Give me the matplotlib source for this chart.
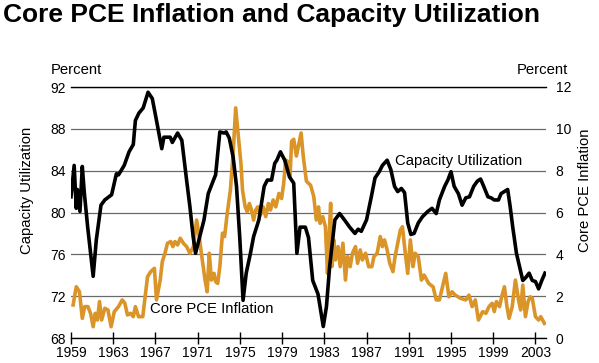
import matplotlib
matplotlib.use('Agg')
import matplotlib.pyplot as plt

plt.rcParams['font.family'] = ['Liberation Sans', 'DejaVu Sans']

# capacity utilization, percent (left axis)
cap_years = [1959.0, 1959.3, 1959.5, 1959.6, 1959.85, 1960.07, 1960.26, 1960.58, 1961.1, 1961.4,
             1961.84, 1962.2, 1962.85, 1963.3, 1963.5, 1964.04, 1964.5, 1964.9, 1965.1, 1965.43,
             1965.84, 1966.3, 1966.7, 1967.1, 1967.6, 1967.8, 1968.4, 1968.6, 1969.1, 1969.5,
             1969.95, 1970.26, 1970.57, 1970.8, 1971.2, 1971.6, 1972.0, 1972.5, 1972.7, 1973.1,
             1973.5, 1973.7, 1974.0, 1974.36, 1974.68, 1975.0, 1975.3, 1975.6, 1976.0, 1976.3,
             1976.8, 1977.3, 1977.6, 1978.0, 1978.3, 1978.5, 1978.84, 1979.25, 1979.7, 1980.1,
             1980.4, 1980.7, 1981.2, 1981.5, 1981.9, 1982.4, 1982.9, 1983.2, 1983.5, 1984.0,
             1984.45, 1984.9, 1985.4, 1985.9, 1986.2, 1986.5, 1987.0, 1987.45, 1987.8, 1988.2,
             1988.5, 1988.95, 1989.3, 1989.65, 1989.95, 1990.3, 1990.6, 1990.9, 1991.2, 1991.5,
             1991.9, 1992.3, 1992.8, 1993.2, 1993.6, 1993.9, 1994.4, 1994.7, 1995.0, 1995.3,
             1995.7, 1996.05, 1996.4, 1996.75, 1997.15, 1997.5, 1997.8, 1998.1, 1998.5, 1998.8,
             1999.1, 1999.5, 1999.74, 2000.05, 2000.37, 2000.6, 2000.85, 2001.2, 2001.5, 2001.8,
             2002.1, 2002.4, 2002.7, 2003.0, 2003.3, 2003.6, 2003.9]
cap_values = [81.5, 84.5, 80.4, 82.2, 80.1, 84.4, 81.9, 78.6, 73.9, 77.4,
              80.7, 81.2, 81.7, 83.7, 83.6, 84.5, 85.8, 86.5, 88.8, 89.5,
              90.0, 91.5, 90.9, 88.8, 86.1, 87.2, 87.2, 86.7, 87.6, 86.9,
              83.1, 80.6, 77.7, 76.1, 77.7, 79.3, 81.8, 83.1, 83.6, 87.7,
              87.6, 87.7, 87.1, 85.3, 82.5, 77.4, 71.6, 74.2, 76.1, 77.7,
              79.3, 82.5, 83.1, 83.1, 84.7, 85.0, 85.8, 85.0, 83.4, 82.8,
              76.1, 78.6, 78.6, 77.6, 73.5, 72.2, 69.1, 71.0, 74.8, 79.3,
              79.9, 79.3, 78.6, 78.0, 78.4, 78.2, 79.3, 81.5, 83.3, 83.9,
              84.5, 85.0, 84.1, 82.5, 82.0, 82.3, 81.9, 79.0, 77.9, 78.0,
              79.0, 79.6, 80.1, 80.4, 79.9, 81.2, 82.5, 83.1, 83.9, 82.5,
              81.8, 80.7, 81.4, 81.5, 82.5, 83.0, 83.2, 82.5, 81.5, 81.4,
              81.2, 81.2, 81.8, 82.0, 82.2, 80.6, 78.6, 76.1, 74.8, 73.5,
              73.8, 74.2, 73.5, 73.4, 72.7, 73.5, 74.2]

# core PCE inflation, percent (right axis)
pce_years = [1959.2, 1959.5, 1959.8, 1960.07, 1960.3, 1960.6, 1960.85, 1961.1, 1961.3, 1961.5,
             1961.7, 1961.9, 1962.2, 1962.5, 1962.8, 1963.1, 1963.5, 1963.85, 1964.1, 1964.35,
             1964.65, 1964.9, 1965.1, 1965.4, 1965.8, 1966.25, 1966.55, 1966.9, 1967.1, 1967.45,
             1967.65, 1967.9, 1968.14, 1968.45, 1968.65, 1968.85, 1969.1, 1969.35, 1969.65, 1969.95,
             1970.26, 1970.6, 1970.9, 1971.15, 1971.35, 1971.7, 1971.9, 1972.1, 1972.3, 1972.55,
             1972.7, 1972.9, 1973.1, 1973.35, 1973.55, 1973.8, 1974.1, 1974.36, 1974.6, 1974.8,
             1975.1, 1975.25, 1975.5, 1975.7, 1975.9, 1976.1, 1976.3, 1976.5, 1976.7, 1976.95,
             1977.2, 1977.45, 1977.7, 1977.9, 1978.15, 1978.4, 1978.7, 1978.95, 1979.15, 1979.34,
             1979.55, 1979.75, 1979.9, 1980.1, 1980.35, 1980.55, 1980.8, 1981.0, 1981.3, 1981.7,
             1982.0, 1982.24, 1982.45, 1982.6, 1982.85, 1983.1, 1983.3, 1983.45, 1983.6, 1983.7,
             1983.9, 1984.05, 1984.3, 1984.5, 1984.76, 1985.0, 1985.2, 1985.45, 1985.66, 1985.95,
             1986.15, 1986.4, 1986.6, 1986.9, 1987.2, 1987.5, 1987.7, 1988.0, 1988.3, 1988.5,
             1988.7, 1988.95, 1989.2, 1989.5, 1989.7, 1989.95, 1990.2, 1990.4, 1990.6, 1990.9,
             1991.15, 1991.4, 1991.6, 1991.9, 1992.2, 1992.45, 1992.9, 1993.3, 1993.6, 1993.9,
             1994.2, 1994.5, 1994.8, 1995.1, 1995.4, 1995.9, 1996.4, 1996.7, 1997.0, 1997.3,
             1997.6, 1998.0, 1998.3, 1998.6, 1998.9, 1999.1, 1999.3, 1999.6, 1999.8, 2000.06,
             2000.3, 2000.5, 2000.8, 2001.1, 2001.4, 2001.6, 2001.8, 2002.05, 2002.3, 2002.5,
             2002.7, 2003.0, 2003.3, 2003.5, 2003.85]
pce_values = [1.58, 2.45, 2.21, 0.94, 1.50, 1.50, 1.18, 0.54, 1.18, 0.86,
              1.74, 0.86, 1.42, 1.34, 0.54, 1.26, 1.50, 1.82, 1.66, 1.10,
              1.18, 1.02, 1.50, 1.02, 1.02, 2.93, 3.17, 3.33, 1.82, 2.77,
              3.65, 4.05, 4.53, 4.61, 4.37, 4.61, 4.45, 4.77, 4.53, 4.37,
              4.05, 4.37, 5.64, 4.85, 4.05, 2.77, 2.21, 4.05, 2.77, 3.09,
              2.69, 2.61, 3.41, 5.01, 4.85, 5.96, 7.07, 8.83, 11.0, 9.94,
              8.34, 7.07, 6.27, 6.04, 6.43, 6.12, 5.64, 6.12, 6.27, 5.88,
              6.27, 5.80, 6.43, 6.12, 6.60, 6.27, 6.91, 6.67, 7.39, 8.51,
              8.43, 7.71, 9.4, 9.5, 8.7, 9.2, 9.8, 8.7, 7.5, 7.3,
              6.76, 5.64, 6.27, 5.48, 5.80, 5.32, 3.09, 4.85, 6.44, 3.41,
              4.69, 3.73, 4.37, 3.41, 4.53, 2.77, 3.89, 3.41, 4.05, 4.37,
              3.57, 4.21, 3.73, 4.05, 3.41, 3.41, 3.89, 4.05, 4.85, 4.37,
              4.69, 4.21, 3.57, 3.17, 3.89, 4.53, 5.16, 5.32, 4.37, 3.09,
              4.69, 3.41, 4.05, 3.89, 2.77, 3.01, 2.6, 2.45, 1.82, 1.82,
              2.45, 3.09, 1.97, 2.21, 2.05, 1.90, 1.82, 2.05, 1.5, 1.82,
              0.86, 1.26, 1.18, 1.5, 1.66, 1.26, 1.74, 1.5, 1.97, 2.45,
              1.5, 0.94, 1.5, 2.77, 1.82, 1.34, 2.53, 1.02, 1.74, 1.97,
              1.9, 1.02, 0.86, 1.02, 0.70]

year_ticks = list(range(1959, 2004, 4))
cap_ticks = [68, 72, 76, 80, 84, 88, 92]
pce_ticks = [0, 2, 4, 6, 8, 10, 12]

BLACK = '#000000'
ORANGE = '#DA9428'
W, H = 599, 363

fig = plt.figure(figsize=(W / 100, H / 100), dpi=100)
ax_pce = fig.add_axes([71 / W, 25 / H, 475 / W, 251 / H])
ax_cap = ax_pce.twinx()

ax_pce.plot(pce_years, pce_values, color=ORANGE, lw=2.6, solid_joinstyle='round', zorder=3)
ax_cap.plot(cap_years, cap_values, color=BLACK, lw=2.6, solid_joinstyle='round', zorder=3)

ax_pce.set_xlim(1959, 2004)
ax_pce.set_ylim(0, 12)
ax_cap.set_ylim(68, 92)
ax_pce.set_xticks(year_ticks)
ax_pce.set_yticks(pce_ticks)
ax_cap.set_yticks(cap_ticks)

ax_pce.yaxis.tick_right()
ax_cap.yaxis.tick_left()
ax_pce.tick_params(axis='y', length=0, pad=7, labelsize=10)
ax_cap.tick_params(axis='y', length=0, pad=4, labelsize=10)
ax_pce.tick_params(axis='x', direction='inout', length=8, width=1, pad=2, labelsize=10)

ax_pce.grid(axis='y', color='#6a6a6a', lw=0.9, zorder=1)
ax_pce.grid(axis='x', visible=False)

for ax in (ax_pce, ax_cap):
    for side in ('left', 'right'):
        ax.spines[side].set_visible(False)
ax_cap.spines['bottom'].set_visible(False)
ax_cap.spines['top'].set_visible(False)
ax_pce.spines['bottom'].set_linewidth(1)
ax_pce.spines['top'].set_linewidth(1)

ax_cap.text(1989.65, 84.9, 'Capacity Utilization', fontsize=10.7, va='center', ha='left')
ax_cap.text(1966.5, 70.8, 'Core PCE Inflation', fontsize=10.7, va='center', ha='left')

fig.text(3 / W, 1 - 22 / H, 'Core PCE Inflation and Capacity Utilization',
         fontsize=19, fontweight='bold', va='baseline', ha='left')
fig.text(51 / W, 1 - 74 / H, 'Percent', fontsize=10.7, va='baseline', ha='left')
fig.text(568 / W, 1 - 74 / H, 'Percent', fontsize=10.7, va='baseline', ha='right')
fig.text(27 / W, 1 - 190 / H, 'Capacity Utilization', fontsize=10.7, rotation=90,
         va='center', ha='center')
fig.text(585 / W, 1 - 190 / H, 'Core PCE Inflation', fontsize=10.7, rotation=90,
         va='center', ha='center')

fig.savefig('out.png', dpi=100)
